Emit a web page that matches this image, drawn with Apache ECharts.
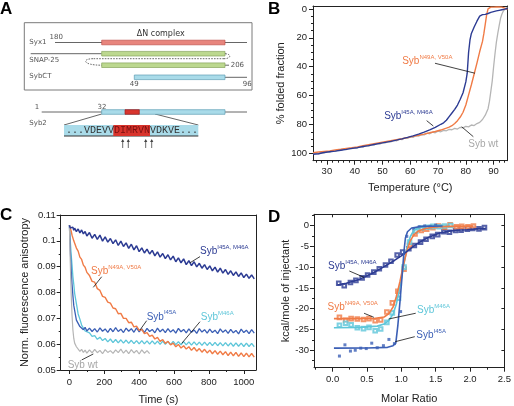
<!DOCTYPE html>
<html><head><meta charset="utf-8">
<script src="https://cdn.jsdelivr.net/npm/echarts@6/dist/echarts.min.js"></script>
<style>html,body{margin:0;padding:0;background:#fff}#c{width:514px;height:406px}</style>
</head><body><div id="c"></div>
<script>
// ---------------- DATA ----------------
// Panel B: thermal melting (% folded fraction vs temperature)
const bNavyT = [25,27,29,31,33,35,37,39,41,43,45,47,49,51,53,55,57,59,61,63,65,67,69,71,72,73,74,75,76,77,78,79,80,80.5,81,81.5,82,83,84,85,86,87,88,89,90,91,92,93,94,95];
const bNavyV = [100.5,100.2,99.3,98.8,98.4,97.8,97.2,96.5,96.0,95.2,94.6,93.8,93.0,92.3,91.6,90.8,89.9,88.9,87.8,86.6,85.2,83.7,82.0,79.8,78.8,77.0,74.5,72.0,69.5,66.5,62.5,58.0,50.5,44.5,30.0,21.5,17.0,12.5,8.5,5.0,4.0,3.8,3.2,2.4,1.9,1.4,1.0,0.6,0.2,-0.3];
const bOrangeT = [25,27,29,31,33,35,37,39,41,43,45,47,49,51,53,55,57,59,61,63,65,67,69,71,73,74,75,76,77,78,79,80,81,82,83,84,85,86,86.5,87,87.5,88,88.5,89,90,91,92,93,94,95];
const bOrangeV = [99.5,99.0,98.6,98.2,97.6,97.1,96.5,96.0,95.4,94.7,94.0,93.3,92.6,91.9,91.2,90.5,89.8,89.0,88.2,87.4,86.6,85.7,84.8,83.8,82.5,81.8,80.8,79.3,77.3,74.8,71.5,66.5,59.5,52.5,45,37.5,29.5,22.5,17,10.5,4,0,-1,-1.2,-1.2,-1.3,-1.3,-1.2,-0.5,0.5];
const bGrayT = [25,26,27,28,29,30,31,32,33,34,35,36,37,38,39,40,41,42,43,44,45,46,47,48,49,50,51,52,53,54,55,56,57,58,59,60,61,62,63,64,65,66,67,68,69,70,71,72,73,74,75,76,77,78,79,80,81,82,83,84,85,86,87,88,88.5,89,89.5,90,90.5,91,91.5,92,92.5,93,93.5,94,94.5,95];
const bGrayV = [100,99.6,100.3,99.2,99.6,98.7,99.0,98.2,98.5,97.6,97.9,97.0,97.3,96.5,96.7,95.9,96.1,95.3,95.6,94.6,94.9,94.0,94.1,93.2,93.5,92.5,92.7,91.8,92.0,91.0,91.3,90.1,90.5,89.2,89.6,88.5,88.9,87.6,88.0,86.9,87.2,86.0,86.4,85.3,85.7,84.6,85.0,84.0,84.3,83.3,83.6,82.6,83.1,81.9,82.3,81.2,81.6,80.3,80.7,79.3,78.5,76.5,73.5,69,64,57,50,40,31,23,17,11.5,6.5,3.5,1.5,0.2,-0.5,-1];
const bXTicks = [30,40,50,60,70,80,90];
const bXMinor = [26,28,32,34,36,38,42,44,46,48,52,54,56,58,62,64,66,68,72,74,76,78,82,84,86,88,92,94];
const bYTicks = [0,20,40,60,80,100];
const bYMinor = [5,10,15,25,30,35,45,50,55,65,70,75,85,90,95];

// Panel C: anisotropy vs time
const tC = [0,5,10,15,20,25,30,40,50,60,70,80,90,100,115,130,145,160,175,190,205,220,235,250,265,280,295,310,325,340,355,370,385,400,415,430,445,460,475,490,505,520,535,550,565,580,595,610,625,640,655,670,685,700,715,730,745,760,775,790,805,820,835,850,865,880,895,910,925,940,955,970,985,1000,1015,1030,1045,1060];
const cNavy = [0.1060,0.1050,0.1057,0.1044,0.1053,0.1041,0.1049,0.1036,0.1046,0.1031,0.1042,0.1027,0.1036,0.1019,0.1032,0.1010,0.1025,0.1006,0.1022,0.0999,0.1015,0.0995,0.1009,0.0989,0.1004,0.0982,0.0999,0.0978,0.0992,0.0971,0.0987,0.0965,0.0981,0.0958,0.0973,0.0953,0.0968,0.0949,0.0963,0.0942,0.0957,0.0937,0.0951,0.0931,0.0946,0.0926,0.0941,0.0919,0.0934,0.0915,0.0930,0.0908,0.0923,0.0904,0.0919,0.0899,0.0913,0.0894,0.0908,0.0889,0.0903,0.0884,0.0898,0.0879,0.0894,0.0875,0.0889,0.0870,0.0884,0.0866,0.0880,0.0862,0.0876,0.0858,0.0871,0.0855,0.0868,0.0853];
const cOrange = [0.1060,0.1048,0.1038,0.1022,0.1017,0.1000,0.0997,0.0972,0.0960,0.0937,0.0928,0.0906,0.0898,0.0878,0.0866,0.0843,0.0840,0.0815,0.0808,0.0785,0.0781,0.0763,0.0759,0.0740,0.0737,0.0718,0.0719,0.0700,0.0700,0.0683,0.0685,0.0667,0.0670,0.0653,0.0657,0.0641,0.0645,0.0630,0.0635,0.0620,0.0626,0.0611,0.0618,0.0603,0.0611,0.0597,0.0604,0.0590,0.0599,0.0585,0.0594,0.0581,0.0590,0.0576,0.0587,0.0573,0.0583,0.0569,0.0580,0.0566,0.0577,0.0563,0.0575,0.0561,0.0573,0.0559,0.0571,0.0556,0.0569,0.0555,0.0568,0.0553,0.0566,0.0552,0.0565,0.0551,0.0564,0.0550];
const cBlue = [0.1060,0.0965,0.0890,0.0832,0.0788,0.0750,0.0731,0.0693,0.0686,0.0668,0.0671,0.0656,0.0665,0.0651,0.0662,0.0649,0.0660,0.0647,0.0663,0.0650,0.0659,0.0646,0.0661,0.0648,0.0664,0.0649,0.0658,0.0645,0.0662,0.0650,0.0660,0.0646,0.0663,0.0648,0.0659,0.0645,0.0661,0.0649,0.0657,0.0644,0.0662,0.0648,0.0658,0.0645,0.0660,0.0647,0.0656,0.0643,0.0661,0.0648,0.0657,0.0644,0.0659,0.0646,0.0655,0.0642,0.0660,0.0647,0.0656,0.0643,0.0658,0.0645,0.0654,0.0641,0.0659,0.0646,0.0655,0.0642,0.0657,0.0644,0.0653,0.0640,0.0658,0.0645,0.0654,0.0641,0.0656,0.0643];
const cCyan = [0.1060,0.1000,0.0948,0.0906,0.0862,0.0832,0.0797,0.0757,0.0717,0.0697,0.0674,0.0667,0.0651,0.0650,0.0644,0.0630,0.0633,0.0619,0.0627,0.0614,0.0622,0.0609,0.0620,0.0606,0.0618,0.0605,0.0617,0.0604,0.0616,0.0603,0.0615,0.0602,0.0614,0.0601,0.0614,0.0601,0.0613,0.0600,0.0613,0.0600,0.0612,0.0599,0.0612,0.0599,0.0611,0.0598,0.0611,0.0598,0.0610,0.0597,0.0610,0.0597,0.0609,0.0596,0.0609,0.0596,0.0608,0.0595,0.0608,0.0595,0.0607,0.0594,0.0607,0.0594,0.0606,0.0593,0.0606,0.0593,0.0605,0.0592,0.0605,0.0592,0.0604,0.0591,0.0604,0.0591,0.0603,0.0590];
const cGray = [0.1060,0.0915,0.0795,0.0712,0.0655,0.0622,0.0604,0.0590,0.0584,0.0572,0.0580,0.0568,0.0577,0.0565,0.0578,0.0566,0.0580,0.0567,0.0576,0.0563,0.0579,0.0568,0.0575,0.0564,0.0578,0.0567,0.0581,0.0565,0.0577,0.0563,0.0579,0.0566,0.0576,0.0562,0.0578,0.0565,0.0575,0.0563];
const cXTicks = [0,200,400,600,800,1000];
const cXMinor = [100,300,500,700,900];
const cYTicks = [0.05,0.06,0.07,0.08,0.09,0.1,0.11];
const cYMinor = [0.055,0.065,0.075,0.085,0.095,0.105];

// Panel D: ITC (kcal/mole of injectant vs molar ratio)
const dNavyX = [0.09,0.17,0.26,0.34,0.43,0.51,0.6,0.68,0.77,0.85,0.94,1.02,1.11,1.19,1.28,1.36,1.45,1.53,1.62,1.7,1.79,1.87,1.96,2.04,2.13,2.21];
const dNavyY = [-13.9,-14.5,-13.7,-13.2,-12.6,-11.9,-11.2,-10.4,-9.5,-8.6,-7.1,-6.4,-5.6,-4.8,-4.0,-3.3,-2.6,-2.2,-1.5,-1.6,-1.2,-1.1,-0.9,-0.7,-0.8,-0.5];
const dNavyFitX = [0.07,0.2,0.4,0.6,0.8,0.9,1.0,1.1,1.2,1.28,1.4,1.56,1.7,1.8,1.95,2.1,2.23];
const dNavyFitY = [-14.3,-13.9,-12.9,-11.3,-9.4,-8.4,-7.3,-6.0,-4.7,-3.9,-2.8,-1.8,-1.35,-1.15,-1.0,-0.8,-0.7];
const dOrangeX = [0.1,0.19,0.27,0.36,0.45,0.53,0.62,0.7,0.79,0.87,0.95,1.04,1.12,1.2,1.29,1.37,1.46,1.54,1.63,1.71,1.8,1.88,1.97,2.05];
const dOrangeY = [-22.1,-22.8,-22.4,-22.5,-22.6,-22.4,-22.9,-22.7,-20.8,-18.6,-15.8,-10.5,-4.8,-2.0,-1.2,-0.9,-0.5,-0.1,-0.4,0.2,-0.3,-0.2,-0.3,-0.1];
const dOrangeFitX = [0.02,0.3,0.6,0.75,0.82,0.88,0.93,0.98,1.03,1.08,1.13,1.18,1.25,1.35,1.5,1.7,2.05];
const dOrangeFitY = [-22.4,-22.4,-22.35,-22.0,-21.2,-19.6,-17.0,-13.5,-9.6,-6.2,-3.7,-2.3,-1.3,-0.7,-0.35,-0.2,-0.15];
const dCyanX = [0.1,0.19,0.27,0.36,0.45,0.53,0.62,0.7,0.79,0.87,0.96,1.04,1.12,1.21,1.29,1.38,1.46,1.55,1.63,1.72];
const dCyanY = [-24.0,-23.5,-23.9,-24.6,-24.8,-24.5,-25.3,-24.9,-23.3,-21.0,-17.5,-10.0,-4.0,-1.3,-0.6,-0.4,-0.2,-0.3,-0.1,0.0];
const dCyanFitX = [0.02,0.4,0.65,0.75,0.82,0.88,0.93,0.98,1.03,1.08,1.13,1.18,1.25,1.4,1.7];
const dCyanFitY = [-24.6,-24.5,-24.2,-23.7,-22.8,-21.3,-18.8,-14.8,-10.0,-5.6,-2.7,-1.2,-0.5,-0.2,-0.1];
const dBlueX = [0.1,0.18,0.26,0.33,0.41,0.49,0.57,0.65,0.74,0.82,0.9,0.99,1.08,1.18,1.26,1.34,1.42,1.5];
const dBlueY = [-31.4,-28.7,-30.2,-30.0,-29.5,-29.6,-28.3,-29.4,-28.9,-27.4,-28.4,-20.7,-2.6,-0.9,-0.3,-0.1,-0.2,0.1];
const dBlueFitX = [0.02,0.5,0.8,0.88,0.92,0.95,0.98,1.01,1.04,1.06,1.09,1.15,1.3,1.6];
const dBlueFitY = [-29.5,-29.45,-29.3,-28.9,-28.3,-24.0,-18.5,-12.5,-6.0,-3.0,-1.5,-0.6,-0.2,-0.1];
const dXTicks = [0,0.5,1,1.5,2,2.5];
const dXMinor = [-0.25,0.25,0.75,1.25,1.75,2.25];
const dYTicks = [-30,-25,-20,-15,-10,-5,0];
const dYMinor = [2.5,-2.5,-7.5,-12.5,-17.5,-22.5,-27.5,-32.5];

// Panel A: schematic (positions along the schematic's own scale)
const schemBox = [[24.3,22.7,252,90]];
const schemLines = [[55,42.5,247,42.5],[30.7,53.7,101.7,53.7],[225,65.2,229,65.2],[225,77.3,247,77.3],[41.7,112,247,112],[101.7,114,64,125],[155,114,198.3,125]];
const schemBars = [[101.7,225,42.5,0],[101.7,225,53.7,1],[101.7,225,65.2,1],[134.3,225,77.3,2],[101.7,225,112,2],[125,139.3,112,3]];
const schemSeqBoxes = [[64,125,198.3,136,0],[113.3,125,150,136,1]];
const schemArrows = [122.7,128.3,145.7,151.7];
const schemLabels = [['Syx1',29.3,42.3,'left'],['180',49.5,36.7,'left'],['SNAP-25',29.3,60,'left'],['206',230.7,65.4,'left'],['SybCT',29.3,76.5,'left'],['49',134.3,84.5,'center'],['96',247.3,84.5,'center'],['1',37,107,'center'],['32',102,107,'center'],['Syb2',29.3,122.7,'left']];
const seqParts = ['...VDEVV','DIMRVN','VDKVE...'];

// ---------------- STYLE / LAYOUT ----------------
const FONT = '"Liberation Sans", Arial, sans-serif';
const AX = '#222';
const NAVY = '#2c3b93', ORANGE = '#f07b46', GRAY = '#b5b5b5', BLUE = '#3b5fb5', CYAN = '#5ec6d9';
const zip = (a, b) => b.map((v, i) => [a[i], v]);

const xAxes = [], yAxes = [];
function addAxes(g, xr, yr, o) {
  const base = (r, pos, inv) => ({gridIndex: g, type: 'value', min: r[0], max: r[1], position: pos, inverse: !!inv,
    splitLine: {show: false}, axisPointer: {show: false}});
  const main = (r, pos, ticks, name, gap, fmt, margin, inv) => Object.assign(base(r, pos, inv), {
      axisLine: {show: true, onZero: false, lineStyle: {color: AX, width: 1}},
      axisTick: {show: true, customValues: ticks, length: 4, lineStyle: {color: AX, width: 1}},
      axisLabel: {show: true, customValues: ticks, fontSize: 9.5, fontFamily: FONT, color: AX, margin: margin, formatter: fmt || (v => String(v))},
      name: name, nameLocation: 'middle', nameGap: gap,
      nameTextStyle: {fontSize: 11, fontFamily: FONT, color: AX}});
  const minorAx = (r, pos, ticks, inv) => Object.assign(base(r, pos, inv), {
    axisLine: {show: false, onZero: false}, axisLabel: {show: false},
    axisTick: {show: true, customValues: ticks, length: 2, lineStyle: {color: AX, width: 1}}});
  const border = (r, pos, ticks, inv) => Object.assign(base(r, pos, inv), {
    axisLine: {show: true, onZero: false, lineStyle: {color: AX, width: 1}}, axisLabel: {show: false},
    axisTick: ticks ? {show: true, inside: true, customValues: ticks, length: 3, lineStyle: {color: AX, width: 1}} : {show: false}});
  const xi = xAxes.length, yi = yAxes.length;
  xAxes.push(main(xr, 'bottom', o.xt, o.xn, o.xg, o.xf, o.xmar));
  xAxes.push(minorAx(xr, 'bottom', o.xm));
  xAxes.push(border(xr, 'top', o.mirror ? o.xt : null));
  yAxes.push(main(yr, 'left', o.yt, o.yn, o.yg, o.yf, o.ymar, o.yinv));
  yAxes.push(minorAx(yr, 'left', o.ym, o.yinv));
  yAxes.push(border(yr, 'right', o.mirror ? o.yt : null, o.yinv));
  return [xi, yi];
}
const grids = [
  {left: 313, top: 6, width: 194.5, height: 154.7},
  {left: 60.7, top: 215, width: 195.3, height: 155},
  {left: 314, top: 214.3, width: 194, height: 153.4},
  {left: 0, top: 0, width: 260, height: 200}
];
const [bx, by] = addAxes(0, [25, 95], [-2, 105], {xt: bXTicks, xm: bXMinor, xn: 'Temperature (°C)', xg: 22, xmar: 6,
  yt: bYTicks, ym: bYMinor, yn: '% folded fraction', yg: 27, ymar: 6, yinv: true});
const [cx, cy] = addAxes(1, [-50, 1070], [0.05, 0.11], {xt: cXTicks, xm: cXMinor, xn: 'Time (s)', xg: 24, xmar: 7,
  yt: cYTicks, ym: cYMinor, yn: 'Norm. fluorescence anisotropy', yg: 30, ymar: 5});
const [dx, dy] = addAxes(2, [-0.27, 2.5], [-34.2, 2.7], {xt: dXTicks, xm: dXMinor, xn: 'Molar Ratio', xg: 26, xmar: 7, xf: v => v.toFixed(1),
  yt: dYTicks, ym: dYMinor, yn: 'kcal/mole of injectant', yg: 16, ymar: 5, mirror: true});
const ax = xAxes.length, ay = yAxes.length;
xAxes.push({gridIndex: 3, type: 'value', min: 0, max: 260, show: false});
yAxes.push({gridIndex: 3, type: 'value', min: 0, max: 200, inverse: true, show: false});

// annotations (layout)
const annB = [{x: 57.1, y: 36.5, t: 'Syb', s: 'N49A, V50A', c: ORANGE}, {x: 50.6, y: 74.6, t: 'Syb', s: 'I45A, M46A', c: NAVY}, {x: 80.9, y: 93.4, t: 'Syb wt', c: '#a8a8a8'}];
const leadB = [[68.9, 37.6, 83.3, 44.5], [65.9, 77.3, 68.3, 81], [82.7, 88.4, 78.5, 81.5]];
const annC = [{x: 749, y: 0.0958, t: 'Syb', s: 'I45A, M46A', c: NAVY}, {x: 124, y: 0.0881, t: 'Syb', s: 'N49A, V50A', c: ORANGE},
  {x: 443, y: 0.0706, t: 'Syb', s: 'I45A', c: BLUE}, {x: 753, y: 0.0704, t: 'Syb', s: 'M46A', c: CYAN}, {x: -10, y: 0.0519, t: 'Syb wt', c: '#a8a8a8'}];
const leadC = [[749, 0.0939, 691.5, 0.0915], [185, 0.0861, 137, 0.0820], [443, 0.0691, 404.8, 0.0655], [749, 0.0687, 644, 0.0603], [70.4, 0.0539, 137, 0.0562]];
const annD = [{x: -0.066, y: -9.9, t: 'Syb', s: 'I45A, M46A', c: NAVY}, {x: -0.074, y: -19.67, t: 'Syb', s: 'N49A, V50A', c: ORANGE},
  {x: 1.229, y: -20.32, t: 'Syb', s: 'M46A', c: CYAN}, {x: 1.219, y: -26.34, t: 'Syb', s: 'I45A', c: BLUE}];
const leadD = [[0.244, -10.94, 0.458, -12.46], [0.458, -21.1, 0.601, -22.08], [1.21, -21.1, 0.815, -22.49], [1.196, -26.74, 0.911, -27.95]];

function textSeries(xi, yi, items) {
  return {type: 'custom', xAxisIndex: xi, yAxisIndex: yi, silent: true, z: 20, clip: false,
    data: items.map((a, i) => [a.x, a.y, i]),
    renderItem: (p, api) => {
      const a = items[api.value(2)]; const pt = api.coord([api.value(0), api.value(1)]);
      return {type: 'text', x: pt[0], y: pt[1], style: {
        text: a.s ? '{m|' + a.t + '}{s|' + a.s + '}' : '{m|' + a.t + '}',
        fill: a.c, verticalAlign: 'middle', align: 'left',
        rich: {m: {fontSize: 10, fontFamily: FONT, lineHeight: 14, fill: a.c},
               s: {fontSize: 6, fontFamily: FONT, fill: a.c, verticalAlign: 'top', lineHeight: 7}}}};
    }};
}
function leaderSeries(xi, yi, items) {
  return {type: 'custom', xAxisIndex: xi, yAxisIndex: yi, silent: true, z: 19, clip: false,
    data: items.map(l => [l[0], l[1], l[2], l[3]]),
    renderItem: (p, api) => {
      const a = api.coord([api.value(0), api.value(1)]), b = api.coord([api.value(2), api.value(3)]);
      return {type: 'line', shape: {x1: a[0], y1: a[1], x2: b[0], y2: b[1]}, style: {stroke: '#111', lineWidth: 0.8}};
    }};
}
const lineS = (xi, yi, data, color, w, z) => ({type: 'line', xAxisIndex: xi, yAxisIndex: yi, data: data, symbol: 'none', showSymbol: false,
  lineStyle: {color: color, width: w}, itemStyle: {color: color}, z: z || 2, silent: true, clip: true});
const scatS = (xi, yi, data, color, sym, z) => ({type: 'scatter', xAxisIndex: xi, yAxisIndex: yi, data: data, symbol: sym, symbolSize: sym === 'rect' ? 3 : 3.6,
  itemStyle: sym === 'rect' ? {color: color} : {color: color, borderColor: color, borderWidth: 0.6}, z: z || 3, silent: true});

// schematic renderers
const barPal = [{f: '#e8857d', s: '#c0504a'}, {f: '#bcd88f', s: '#86a55c'}, {f: '#a9dbe9', s: '#5f9fb5'}, {f: '#d8352e', s: '#a02020'}];
const seqPal = ['#a9dbe9', '#d8342c'];
const schemSeries = [
  {type: 'custom', xAxisIndex: ax, yAxisIndex: ay, silent: true, z: 5, data: schemBox,
    renderItem: (p, api) => { const a = api.coord([api.value(0), api.value(1)]), b = api.coord([api.value(2), api.value(3)]);
      return {type: 'rect', shape: {x: a[0], y: a[1], width: b[0] - a[0], height: b[1] - a[1]}, style: {fill: 'none', stroke: '#7a7a7a', lineWidth: 1}}; }},
  {type: 'custom', xAxisIndex: ax, yAxisIndex: ay, silent: true, z: 5, data: schemLines,
    renderItem: (p, api) => { const a = api.coord([api.value(0), api.value(1)]), b = api.coord([api.value(2), api.value(3)]);
      return {type: 'line', shape: {x1: a[0], y1: a[1], x2: b[0], y2: b[1]}, style: {stroke: '#555', lineWidth: 0.9}}; }},
  {type: 'custom', xAxisIndex: ax, yAxisIndex: ay, silent: true, z: 6, data: schemBars,
    renderItem: (p, api) => { const a = api.coord([api.value(0), api.value(2)]), b = api.coord([api.value(1), api.value(2)]); const c = barPal[api.value(3)];
      return {type: 'rect', shape: {x: a[0], y: a[1] - 2.3, width: b[0] - a[0], height: 4.6}, style: {fill: c.f, stroke: c.s, lineWidth: 0.7}}; }},
  {type: 'custom', xAxisIndex: ax, yAxisIndex: ay, silent: true, z: 6, data: [[0]],
    renderItem: (p, api) => {
      const P = (x, y) => api.coord([x, y]);
      const s = {stroke: '#444', lineWidth: 0.8, lineDash: [1.6, 1.2], fill: 'none'};
      const p0 = P(225, 53.7), c1 = P(231.5, 53.9), c2 = P(231.5, 58.7), p1 = P(224, 58.7), p2 = P(93, 58.7), c3 = P(82, 58.7), c4 = P(82, 65.2), p3 = P(101.7, 65.2);
      return {type: 'group', children: [
        {type: 'bezierCurve', shape: {x1: p0[0], y1: p0[1], cpx1: c1[0], cpy1: c1[1], cpx2: c2[0], cpy2: c2[1], x2: p1[0], y2: p1[1]}, style: s},
        {type: 'line', shape: {x1: p1[0], y1: p1[1], x2: p2[0], y2: p2[1]}, style: s},
        {type: 'bezierCurve', shape: {x1: p2[0], y1: p2[1], cpx1: c3[0], cpy1: c3[1], cpx2: c4[0], cpy2: c4[1], x2: p3[0], y2: p3[1]}, style: s}]};
    }},
  {type: 'custom', xAxisIndex: ax, yAxisIndex: ay, silent: true, z: 6, data: schemSeqBoxes,
    renderItem: (p, api) => { const a = api.coord([api.value(0), api.value(1)]), b = api.coord([api.value(2), api.value(3)]);
      const ch = [{type: 'rect', shape: {x: a[0], y: a[1], width: b[0] - a[0], height: b[1] - a[1]}, style: {fill: seqPal[api.value(4)]}}];
      if (api.value(4) === 0) ch.push({type: 'line', shape: {x1: a[0], y1: b[1], x2: b[0], y2: b[1]}, style: {stroke: '#333', lineWidth: 1}});
      return {type: 'group', children: ch}; }},
  {type: 'custom', xAxisIndex: ax, yAxisIndex: ay, silent: true, z: 7, data: [[66, 130.6]],
    renderItem: (p, api) => { const a = api.coord([api.value(0), api.value(1)]);
      return {type: 'text', x: a[0], y: a[1], style: {text: '{n|' + seqParts[0] + '}{r|' + seqParts[1] + '}{n|' + seqParts[2] + '}', verticalAlign: 'middle', align: 'left',
        rich: {n: {fontFamily: '"Liberation Mono", monospace', fontSize: 10, fill: '#333'}, r: {fontFamily: '"Liberation Mono", monospace', fontSize: 10, fill: '#7a1010'}}}}; }},
  {type: 'custom', xAxisIndex: ax, yAxisIndex: ay, silent: true, z: 7, data: schemArrows.map(x => [x, 148, 139]),
    renderItem: (p, api) => { const a = api.coord([api.value(0), api.value(1)]), b = api.coord([api.value(0), api.value(2)]);
      return {type: 'group', children: [
        {type: 'line', shape: {x1: a[0], y1: a[1], x2: b[0], y2: b[1] + 1}, style: {stroke: '#444', lineWidth: 0.8}},
        {type: 'polygon', shape: {points: [[b[0], b[1]], [b[0] - 1.6, b[1] + 3], [b[0] + 1.6, b[1] + 3]]}, style: {fill: '#444'}}]}; }},
  {type: 'custom', xAxisIndex: ax, yAxisIndex: ay, silent: true, z: 7, data: schemLabels.map((l, i) => [l[1], l[2], i]),
    renderItem: (p, api) => { const l = schemLabels[api.value(2)]; const a = api.coord([api.value(0), api.value(1)]);
      return {type: 'text', x: a[0], y: a[1], style: {text: l[0], fontSize: 7, fontFamily: '"DejaVu Sans", sans-serif', fill: '#555', align: l[3], verticalAlign: 'middle'}}; }},
  {type: 'custom', xAxisIndex: ax, yAxisIndex: ay, silent: true, z: 7, data: [[160.7, 33.7]],
    renderItem: (p, api) => { const a = api.coord([api.value(0), api.value(1)]);
      return {type: 'text', x: a[0], y: a[1], style: {text: 'ΔN complex', fontSize: 8, fontFamily: '"DejaVu Sans", sans-serif', fill: '#333', align: 'center', verticalAlign: 'middle'}}; }}
];

const series = [
  // B
  lineS(bx, by, zip(bGrayT, bGrayV), GRAY, 1.3, 2),
  lineS(bx, by, zip(bOrangeT, bOrangeV), ORANGE, 1.4, 3),
  lineS(bx, by, zip(bNavyT, bNavyV), NAVY, 1.4, 4),
  leaderSeries(bx, by, leadB), textSeries(bx, by, annB),
  // C
  lineS(cx, cy, zip(tC, cCyan), CYAN, 1.3, 2),
  lineS(cx, cy, zip(tC, cBlue), BLUE, 1.3, 3),
  lineS(cx, cy, zip(tC, cOrange), ORANGE, 1.4, 4),
  lineS(cx, cy, zip(tC, cGray), GRAY, 1.2, 5),
  lineS(cx, cy, zip(tC, cNavy), NAVY, 1.5, 6),
  leaderSeries(cx, cy, leadC), textSeries(cx, cy, annC),
  // D
  scatS(dx, dy, zip(dNavyX, dNavyY), NAVY, 'emptyRect', 3),
  scatS(dx, dy, zip(dOrangeX, dOrangeY), ORANGE, 'emptyRect', 3),
  scatS(dx, dy, zip(dCyanX, dCyanY), CYAN, 'emptyRect', 3),
  scatS(dx, dy, zip(dBlueX, dBlueY), BLUE, 'rect', 3),
  lineS(dx, dy, zip(dCyanFitX, dCyanFitY), CYAN, 1.6, 4),
  lineS(dx, dy, zip(dOrangeFitX, dOrangeFitY), ORANGE, 1.6, 5),
  lineS(dx, dy, zip(dNavyFitX, dNavyFitY), NAVY, 1.6, 6),
  lineS(dx, dy, zip(dBlueFitX, dBlueFitY), BLUE, 1.6, 7),
  leaderSeries(dx, dy, leadD), textSeries(dx, dy, annD)
].concat(schemSeries);

const letters = [['A', 0, 1], ['B', 268, 1], ['C', 0, 207], ['D', 268, 209]];
const chart = echarts.init(document.getElementById('c'), null, {renderer: 'canvas'});
chart.setOption({
  animation: false, backgroundColor: '#fff',
  grid: grids, xAxis: xAxes, yAxis: yAxes, series: series,
  graphic: letters.map(l => ({type: 'text', x: l[1], y: l[2], style: {text: l[0], font: 'bold 17px "Liberation Sans", Arial, sans-serif', fill: '#000'}}))
});
</script></body></html>
